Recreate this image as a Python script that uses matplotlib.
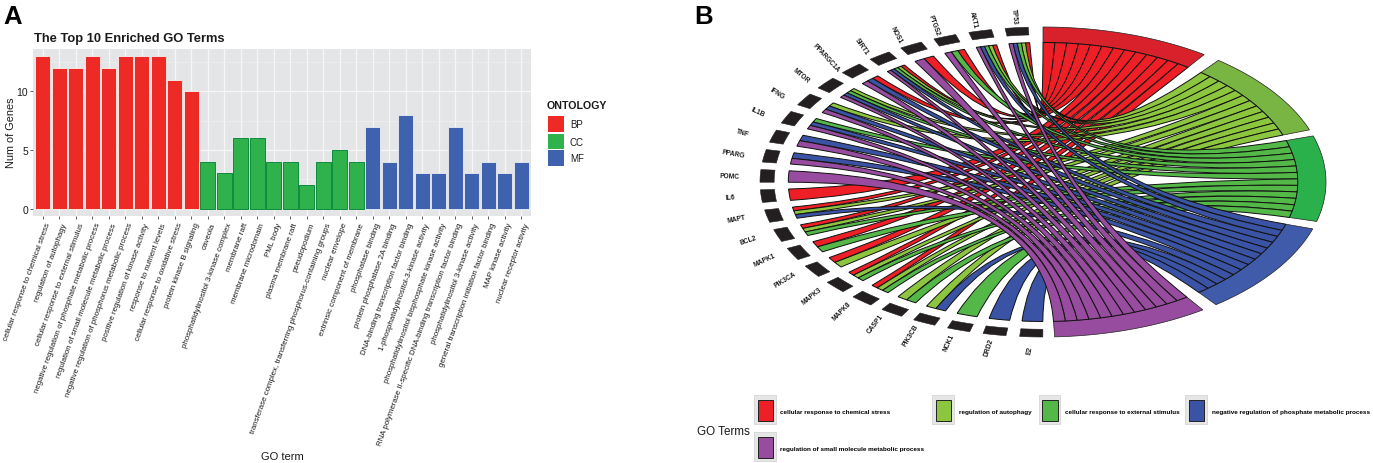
import numpy as np
import matplotlib
matplotlib.use("Agg")
import matplotlib.pyplot as plt
from matplotlib.patches import PathPatch, Polygon, Rectangle
from matplotlib.path import Path
from matplotlib.transforms import ScaledTranslation

plt.rcParams["font.family"] = ["Liberation Sans", "DejaVu Sans"]

# ----------------------------------------------------------------------
# DATA
# ----------------------------------------------------------------------
BP_TERMS = ["cellular response to chemical stress", "regulation of autophagy",
            "cellular response to external stimulus",
            "negative regulation of phosphate metabolic process",
            "regulation of small molecule metabolic process",
            "negative regulation of phosphorus metabolic process",
            "positive regulation of kinase activity", "response to nutrient levels",
            "cellular response to oxidative stress", "protein kinase B signaling"]
CC_TERMS = ["caveola", "phosphatidylinositol 3-kinase complex", "membrane raft",
            "membrane microdomain", "PML body", "plasma membrane raft", "pseudopodium",
            "transferase complex, transferring phosphorus-containing groups",
            "nuclear envelope", "extrinsic component of membrane"]
MF_TERMS = ["phosphatase binding", "protein phosphatase 2A binding",
            "DNA-binding transcription factor binding",
            "1-phosphatidylinositol-3-kinase activity",
            "phosphatidylinositol bisphosphate kinase activity",
            "RNA polymerase II-specific DNA-binding transcription factor binding",
            "phosphatidylinositol 3-kinase activity",
            "general transcription initiation factor binding",
            "MAP kinase activity", "nuclear receptor activity"]
BP_COUNTS = [13, 12, 12, 13, 12, 13, 13, 13, 11, 10]
CC_COUNTS = [4, 3, 6, 6, 4, 4, 2, 4, 5, 4]
MF_COUNTS = [7, 4, 8, 3, 3, 7, 3, 4, 3, 4]

GENES = ["TP53", "AKT1", "PTGS2", "NOS1", "SIRT1", "PPARGC1A", "MTOR", "IFNG", "IL1B",
         "TNF", "PPARG", "POMC", "IL6", "MAPT", "BCL2", "MAPK1", "PIK3CA", "MAPK3",
         "MAPK8", "CASP1", "PIK3CB", "NCK1", "DRD2", "E2"]
CHORD_TERMS = ["cellular response to chemical stress", "regulation of autophagy",
               "cellular response to external stimulus",
               "negative regulation of phosphate metabolic process",
               "regulation of small molecule metabolic process"]
RED_GENES = ["TP53", "AKT1", "PTGS2", "NOS1", "SIRT1", "PPARGC1A", "IL6", "MAPT", "BCL2",
             "MAPK1", "PIK3CA", "MAPK3", "MAPK8"]
LIME_GENES = ["TP53", "AKT1", "SIRT1", "MTOR", "IFNG", "MAPT", "BCL2", "PIK3CA", "MAPK3",
              "MAPK8", "CASP1", "PIK3CB"]
GREEN_GENES = ["TP53", "AKT1", "PTGS2", "SIRT1", "MTOR", "IL1B", "BCL2", "MAPK1", "MAPK3",
               "MAPK8", "CASP1", "NCK1"]
BLUE_GENES = ["TP53", "AKT1", "SIRT1", "PPARGC1A", "MTOR", "IFNG", "IL1B", "TNF", "PPARG",
              "MAPT", "PIK3CB", "DRD2", "E2"]
PURPLE_GENES = ["TP53", "AKT1", "PTGS2", "NOS1", "SIRT1", "PPARGC1A", "MTOR", "IFNG",
                "IL1B", "TNF", "PPARG", "POMC"]

# ----------------------------------------------------------------------
# STYLE
# ----------------------------------------------------------------------
W, H = 1373, 464
TEXT = "#1a1a1a"
ONT_COLORS = {"BP": "#ee2a26", "CC": "#2fb24c", "MF": "#3f62ae"}
ONT_EDGES = {"BP": "#f8e4e0", "CC": "#0f8a3f", "MF": "#dfe4ee"}
RIBBON_COLORS = ["#ee1f26", "#8cc63f", "#53b847", "#3a53a4", "#984c9f"]
RING_COLORS = ["#d9212b", "#79b543", "#2bb14c", "#3f5ba9", "#984c9f"]
# clockwise sweep of each term on the unit circle, degrees
TERM_START = [90.0, 51.7, 17.3, -17.6, -55.6]
DEG_PER_GENE = 2.67
GENE_START, GENE_WIDTH, GENE_GAP = 93.0, 4.7, 2.79
RING_IN = 0.9


def rect_px(x0, y0, x1, y1):
    # axes rectangle from picture pixels
    return [x0 / W, 1 - y1 / H, (x1 - x0) / W, (y1 - y0) / H]


def fig_text(x, y, s, **kw):
    return fig.text(x / W, 1 - y / H, s, color=kw.pop("color", TEXT), **kw)


def fig_box(x0, y0, x1, y1, **kw):
    fig.add_artist(Rectangle((x0 / W, 1 - y1 / H), (x1 - x0) / W, (y1 - y0) / H,
                             transform=fig.transFigure, **kw))


fig = plt.figure(figsize=(W / 100, H / 100), dpi=100)

fig_text(3, 24, "A", fontsize=18.5, fontweight="bold", color="black")
fig_text(694, 24, "B", fontsize=18.5, fontweight="bold", color="black")

# ----------------------------------------------------------------------
# PANEL A - bars
# ----------------------------------------------------------------------
ax = fig.add_axes(rect_px(33, 50, 531, 217))
terms = BP_TERMS + CC_TERMS + MF_TERMS
counts = BP_COUNTS + CC_COUNTS + MF_COUNTS
groups = ["BP"] * 10 + ["CC"] * 10 + ["MF"] * 10
xpos = np.arange(1, len(terms) + 1)

ax.set_facecolor("#e4e5e7")
ax.set_axisbelow(True)
ax.grid(True, which="major", color="#f6f6f7", lw=0.9)
ax.set_yticks([2.5, 7.5, 12.5], minor=True)
ax.grid(True, which="minor", axis="y", color="#f0f0f1", lw=0.5)
ax.bar(xpos, counts, width=0.9,
       color=[ONT_COLORS[g] for g in groups],
       edgecolor=[ONT_EDGES[g] for g in groups], linewidth=0.7)
ax.set_xlim(0.4, 30.6)
ax.set_ylim(-0.63, 13.62)
ax.set_yticks([0, 5, 10])
ax.set_xticks(xpos)
ax.set_xticklabels(terms, rotation=70, ha="right", va="top", rotation_mode="anchor",
                   fontsize=5.7, color=TEXT)
ax.tick_params(axis="both", which="major", length=2, width=0.6, color="#444444")
ax.tick_params(axis="y", which="major", labelsize=7.5, labelcolor=TEXT, pad=1.5)
ax.tick_params(axis="x", which="major", pad=2)
ax.tick_params(axis="y", which="minor", length=0)
for spine in ax.spines.values():
    spine.set_visible(False)
# labels sit a little right of their ticks in the original
shift = ScaledTranslation(2.5 / 100, 0, fig.dpi_scale_trans)
for lab in ax.get_xticklabels():
    lab.set_transform(lab.get_transform() + shift)

fig_text(34, 42, "The Top 10 Enriched GO Terms", fontsize=9.3, fontweight="bold")
fig_text(11, 133, "Num of Genes", fontsize=7.8, rotation=90, ha="center", va="center")
fig_text(282, 457, "GO term", fontsize=8, ha="center", va="center")

# ontology legend
fig_text(547, 106, "ONTOLOGY", fontsize=7.7, fontweight="bold", va="center")
for (y0, y1), name in zip([(117, 132.5), (135, 150), (151, 166.5)], ONT_COLORS):
    fig_box(548, y0, 564, y1, facecolor=ONT_COLORS[name], edgecolor="none")
    fig_text(570, (y0 + y1) / 2 + 0.5, name, fontsize=7, va="center")

# ----------------------------------------------------------------------
# PANEL B - chord diagram, unit circle stretched into the axes
# ----------------------------------------------------------------------
cx = fig.add_axes(rect_px(1043 - 1.2 * 283, 183 - 1.17 * 155, 1043 + 1.1 * 283, 183 + 1.17 * 155))
cx.set_xlim(-1.2, 1.1)
cx.set_ylim(-1.17, 1.17)
cx.axis("off")


def arc(a0, a1, r, n=24):
    t = np.radians(np.linspace(a0, a1, n))
    return np.column_stack([r * np.cos(t), r * np.sin(t)])


def band(a0, a1, r0, r1):
    return np.vstack([arc(a0, a1, r1), arc(a1, a0, r0)])


gene_sets = [RED_GENES, LIME_GENES, GREEN_GENES, BLUE_GENES, PURPLE_GENES]
gene_a0 = {g: GENE_START + i * (GENE_WIDTH + GENE_GAP) for i, g in enumerate(GENES)}
gene_n = {g: sum(g in s for s in gene_sets) for g in GENES}
gene_used = {g: 0 for g in GENES}

# outer rings
for start, members, col in zip(TERM_START, gene_sets, RING_COLORS):
    end = start - DEG_PER_GENE * len(members)
    cx.add_patch(Polygon(band(end, start, RING_IN, 1.0), closed=True, facecolor=col,
                         edgecolor="#222222", lw=0.5))
for g in GENES:
    a0 = gene_a0[g]
    cx.add_patch(Polygon(band(a0, a0 + GENE_WIDTH, 0.95, 1.0), closed=True,
                         facecolor="#231f20", edgecolor="#231f20", lw=0.4))
    # label angle follows the circle, flattened a little on the lower side
    mid = a0 + GENE_WIDTH / 2
    grow = 1 + 0.006 * max(len(g) - 5, 0)  # long names pushed clear of the blocks
    lx, ly = grow * 1.11 * np.cos(np.radians(mid)), grow * 1.08 * np.sin(np.radians(mid))
    rot = mid - 180 if mid < 180 else 0.9 * (mid - 180)
    cx.text(lx, ly, g, fontsize=4.8, fontweight="bold", color=TEXT, ha="center", va="center",
            rotation=rot, rotation_mode="anchor")

# ribbons, term by term so the later ones lie on top
for start, members, col in zip(TERM_START, gene_sets, RIBBON_COLORS):
    k = 0
    for g in GENES:
        if g not in members:
            continue
        t_hi = start - k * DEG_PER_GENE
        t_lo = t_hi - DEG_PER_GENE
        k += 1
        step = GENE_WIDTH / gene_n[g]
        a0 = gene_a0[g] + gene_used[g] * step
        a1 = a0 + step
        gene_used[g] += 1

        g_arc = arc(a0, a1, RING_IN, 8)
        t_arc = arc(t_lo, t_hi, RING_IN, 8)
        verts = list(g_arc) + [(0, 0), t_arc[0]] + list(t_arc[1:]) + [(0, 0), g_arc[0]]
        codes = ([Path.MOVETO] + [Path.LINETO] * 7 + [Path.CURVE3, Path.CURVE3]
                 + [Path.LINETO] * 7 + [Path.CURVE3, Path.CURVE3])
        cx.add_patch(PathPatch(Path(verts, codes), facecolor=col, edgecolor="#111111", lw=0.7))

# GO terms legend
fig_text(696.5, 432, "GO Terms", fontsize=8.4, va="center")
legend_boxes = [(754, 396), (932, 396), (1038.5, 396), (1185, 396), (754, 433)]
legend_text = [780.5, 959, 1065, 1212, 780.5]
for (bx, by), tx, name, col in zip(legend_boxes, legend_text, CHORD_TERMS, RIBBON_COLORS):
    fig_box(bx, by, bx + 21.5, by + 29, facecolor="#e6e6e6", edgecolor="#cfcfcf", lw=0.5)
    fig_box(bx + 3.5, by + 5, bx + 19, by + 26, facecolor=col, edgecolor="#222222", lw=0.7)
    fig_text(tx, by + 16.5, name, fontsize=4.55, fontweight="bold", color="black", va="center")

fig.savefig("out.png", dpi=100)
